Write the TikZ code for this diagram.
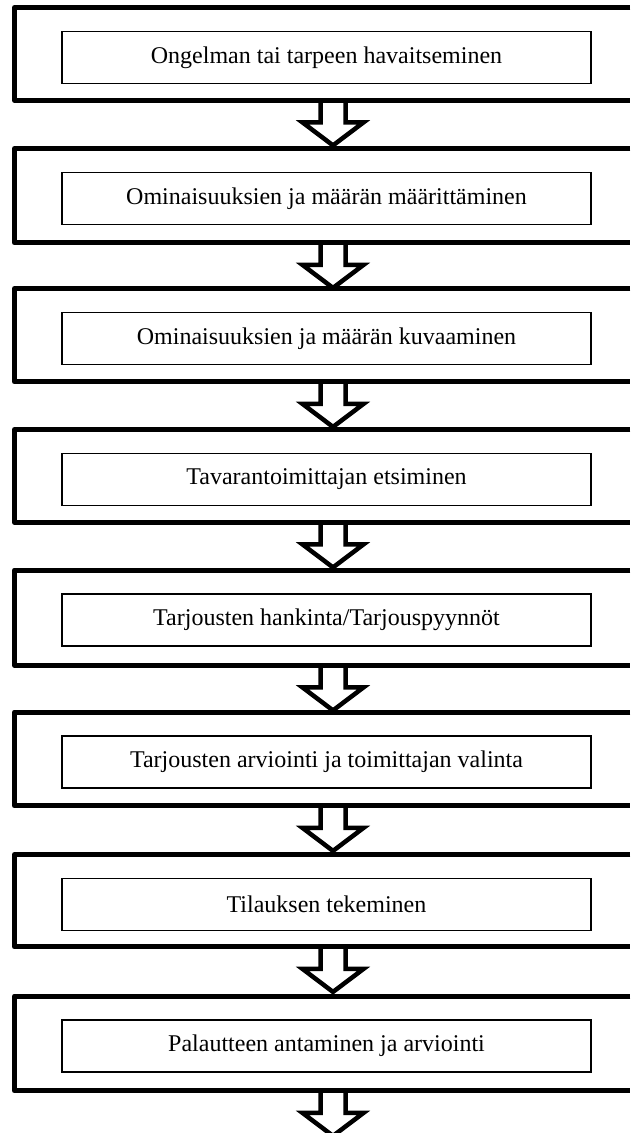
\documentclass[tikz,border=0pt]{standalone}
\usepackage{fontspec}
\setmainfont{Liberation Serif}
\usetikzlibrary{calc}
\tikzset{
  outerbox/.style={rectangle, inner sep=0pt, minimum width=615.5pt, anchor=north west},
  framepath/.style={line width=5pt, line join=round},
  innerbox/.style={draw, line width=1.2pt, minimum width=529pt, minimum height=52pt, inner sep=0pt, font=\fontsize{24}{28}\selectfont},
  blockarrow/.style={draw, line width=4.5pt, line join=miter},
}
\begin{document}
\begin{tikzpicture}[x=1pt,y=-1pt]
\useasboundingbox (0,0) rectangle (630,1133);
\foreach \k/\t/\b/\txt in {
  1/7.5/100/{Ongelman tai tarpeen havaitseminen},
  2/148.5/242.5/{Ominaisuuksien ja määrän määrittäminen},
  3/288.5/381.5/{Ominaisuuksien ja määrän kuvaaminen},
  4/429.5/522/{Tavarantoimittajan etsiminen},
  5/570/665/{Tarjousten hankinta/Tarjouspyynnöt},
  6/712/805.5/{Tarjousten arviointi ja toimittajan valinta},
  7/854.5/946.5/{Tilauksen tekeminen},
  8/996/1090.5/{Palautteen antaminen ja arviointi}} {
  \pgfmathsetmacro\h{\b-\t}
  \node[outerbox, minimum height=\h pt] (o\k) at (14.5,\t) {};
  \coordinate (a\k) at ($(o\k.south west)+(318.5,0)$);
  \draw[blockarrow] ($(a\k)+(-12.5,0)$) -- ++(0,22) -- ++(-18,0) -- ++(30.5,23) -- ++(30.5,-23) -- ++(-18,0) -- ++(0,-22);
  \draw[framepath] (o\k.north east) -- (o\k.north west) -- (o\k.south west) -- (o\k.south east);
  \node[innerbox] (i\k) at (326.5,\t+50) {\txt};
}
\end{tikzpicture}
\end{document}
